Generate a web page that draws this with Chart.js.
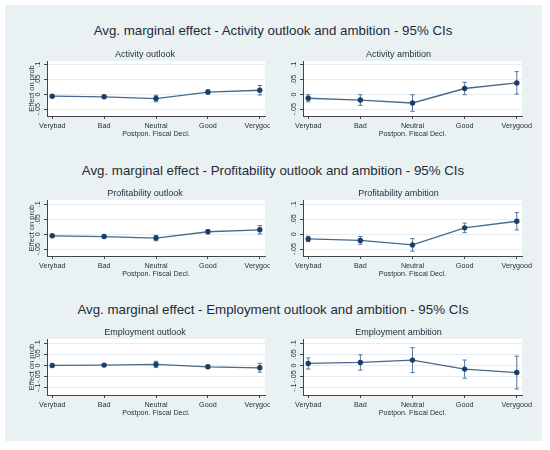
<!DOCTYPE html>
<html lang="en">
<head>
<meta charset="UTF-8">
<title>Avg. marginal effect - 95% CIs</title>
<script src="https://cdn.jsdelivr.net/npm/chart.js"></script>
<style>
  body { margin: 0; background: #fff; font-family: "Liberation Sans", Arial, sans-serif; }
  #page { position: relative; width: 550px; height: 450px; overflow: hidden; }
  #panel { position: absolute; left: 5px; top: 5px; width: 537px; height: 436px; background: #eaf1f3; }
  .head { position: absolute; left: 0; width: 546px; text-align: center; font-size: 13.3px; line-height: 16px; color: #222c38; white-space: nowrap; }
  canvas { position: absolute; }
</style>
</head>
<body>
<div id="page">
  <div id="panel"></div>
  <div class="head" style="top:23px">Avg. marginal effect - Activity outlook and ambition - 95% CIs</div>
  <div class="head" style="top:162.5px">Avg. marginal effect - Profitability outlook and ambition - 95% CIs</div>
  <div class="head" style="top:302px">Avg. marginal effect - Employment outlook and ambition - 95% CIs</div>
  <canvas id="actOut" width="265" height="93" style="left:5px;top:47px"></canvas>
  <canvas id="actAmb" width="265" height="93" style="left:275px;top:47px"></canvas>
  <canvas id="proOut" width="265" height="94" style="left:5px;top:186px"></canvas>
  <canvas id="proAmb" width="265" height="94" style="left:275px;top:186px"></canvas>
  <canvas id="empOut" width="265" height="94" style="left:5px;top:325px"></canvas>
  <canvas id="empAmb" width="265" height="94" style="left:275px;top:325px"></canvas>
</div>

<script>
// categories of the x axis
const categories = ['Verybad', 'Bad', 'Neutral', 'Good', 'Verygood'];

// point estimates and half-width of the 95% CI
const actOutEst = [-0.006, -0.008, -0.014, 0.008, 0.014];
const actOutCi  = [0.004, 0.004, 0.011, 0.007, 0.016];
const actAmbEst = [-0.013, -0.019, -0.029, 0.020, 0.039];
const actAmbCi  = [0.012, 0.018, 0.028, 0.021, 0.038];

const proOutEst = [-0.0055, -0.008, -0.013, 0.008, 0.0145];
const proOutCi  = [0.004, 0.004, 0.009, 0.007, 0.014];
const proAmbEst = [-0.016, -0.021, -0.036, 0.021, 0.043];
const proAmbCi  = [0.009, 0.013, 0.021, 0.016, 0.029];

const empOutEst = [0.0, 0.0015, 0.0045, -0.006, -0.0105];
const empOutCi  = [0.004, 0.005, 0.014, 0.006, 0.020];
const empAmbEst = [0.009, 0.0135, 0.024, -0.0165, -0.032];
const empAmbCi  = [0.025, 0.0345, 0.056, 0.041, 0.074];

// y tick values
const ticksSmall = [-0.05, 0, 0.05, 0.1];
const ticksWide  = [-0.1, -0.05, 0, 0.05, 0.1];

Chart.defaults.font.family = '"Liberation Sans", Arial, sans-serif';
Chart.defaults.color = '#26313d';
Chart.defaults.animation = false;

const navy = '#1a3f66';
const lineCol = '#46698e';
const capCol = '#56789b';
const axisCol = '#3d4650';

// white plot region on the grey graph region
const plotBg = {
  id: 'plotBg',
  beforeDraw(chart) {
    const { ctx, chartArea: a } = chart;
    ctx.save();
    ctx.fillStyle = '#ffffff';
    ctx.fillRect(a.left, a.top, a.right - a.left, a.bottom - a.top);
    ctx.restore();
  }
};

function fmt(v) {
  if (v === 0) return '0';
  return String(+v.toFixed(3)).replace('0.', '.');
}

function makeChart(id, title, est, ci, yMin, yMax, yTicks, isLeft) {
  const datasets = [{
    data: est.map((v, i) => ({ x: i, y: v })),
    showLine: true,
    borderColor: lineCol,
    borderWidth: 1.3,
    pointRadius: 2.7,
    pointBackgroundColor: navy,
    pointBorderColor: navy,
    pointBorderWidth: 0
  }];
  // one capped spike per category for the confidence interval
  est.forEach((v, i) => {
    datasets.push({
      data: [{ x: i, y: v - ci[i] }, { x: i, y: v + ci[i] }],
      showLine: true,
      borderColor: capCol,
      borderWidth: 1,
      pointStyle: 'line',
      pointRadius: 2.2,
      pointBorderColor: capCol,
      pointBorderWidth: 1
    });
  });

  return new Chart(document.getElementById(id), {
    type: 'scatter',
    data: { datasets: datasets },
    plugins: [plotBg],
    options: {
      responsive: false,
      events: [],
      layout: { padding: isLeft ? { left: 18, right: 3, top: 0, bottom: 0 } : { left: 0, right: 18, top: 0, bottom: 0 } },
      plugins: {
        legend: { display: false },
        tooltip: { enabled: false },
        title: {
          display: true,
          text: title,
          font: { size: 9, weight: 'normal' },
          color: '#26313d',
          padding: { top: 2.6, bottom: 0.6 }
        }
      },
      scales: {
        x: {
          type: 'linear',
          min: -0.1,
          max: 4.1,
          afterBuildTicks: s => { s.ticks = categories.map((c, i) => ({ value: i })); },
          afterFit: s => { s.height = 24; s.paddingLeft = 0; s.paddingRight = 0; },
          ticks: {
            callback: v => categories[v],
            font: { size: 7.2 },
            color: '#26313d',
            padding: 3,
            maxRotation: 0,
            autoSkip: false
          },
          grid: { drawOnChartArea: false, drawTicks: true, tickLength: 3, tickColor: axisCol },
          border: { color: axisCol, width: 1 },
          title: {
            display: true,
            text: 'Postpon. Fiscal Decl.',
            font: { size: 7.2 },
            color: '#26313d',
            padding: { top: 0, bottom: 1.8 }
          }
        },
        y: {
          min: yMin,
          max: yMax,
          afterBuildTicks: s => { s.ticks = yTicks.map(v => ({ value: v })); },
          afterFit: s => { s.width = isLeft ? 24 : 28; s.paddingTop = 0; s.paddingBottom = 0; },
          ticks: {
            callback: v => fmt(v),
            font: { size: 7.2 },
            color: '#26313d',
            padding: 0,
            minRotation: 90,
            maxRotation: 90,
            crossAlign: 'center',
            autoSkip: false
          },
          grid: { color: '#e6eef1', lineWidth: 1, tickLength: 3, tickColor: axisCol },
          border: { color: axisCol, width: 1 },
          title: {
            display: isLeft,
            text: 'Effect on prob',
            font: { size: 7.5 },
            color: '#26313d',
            padding: { top: 4.8, bottom: 0 }
          }
        }
      }
    }
  });
}

makeChart('actOut', 'Activity outlook', actOutEst, actOutCi, -0.073, 0.113, ticksSmall, true);
makeChart('actAmb', 'Activity ambition', actAmbEst, actAmbCi, -0.073, 0.113, ticksSmall, false);
makeChart('proOut', 'Profitability outlook', proOutEst, proOutCi, -0.073, 0.114, ticksSmall, true);
makeChart('proAmb', 'Profitability ambition', proAmbEst, proAmbCi, -0.073, 0.114, ticksSmall, false);
makeChart('empOut', 'Employment outlook', empOutEst, empOutCi, -0.133, 0.119, ticksWide, true);
makeChart('empAmb', 'Employment ambition', empAmbEst, empAmbCi, -0.133, 0.119, ticksWide, false);
</script>
</body>
</html>
